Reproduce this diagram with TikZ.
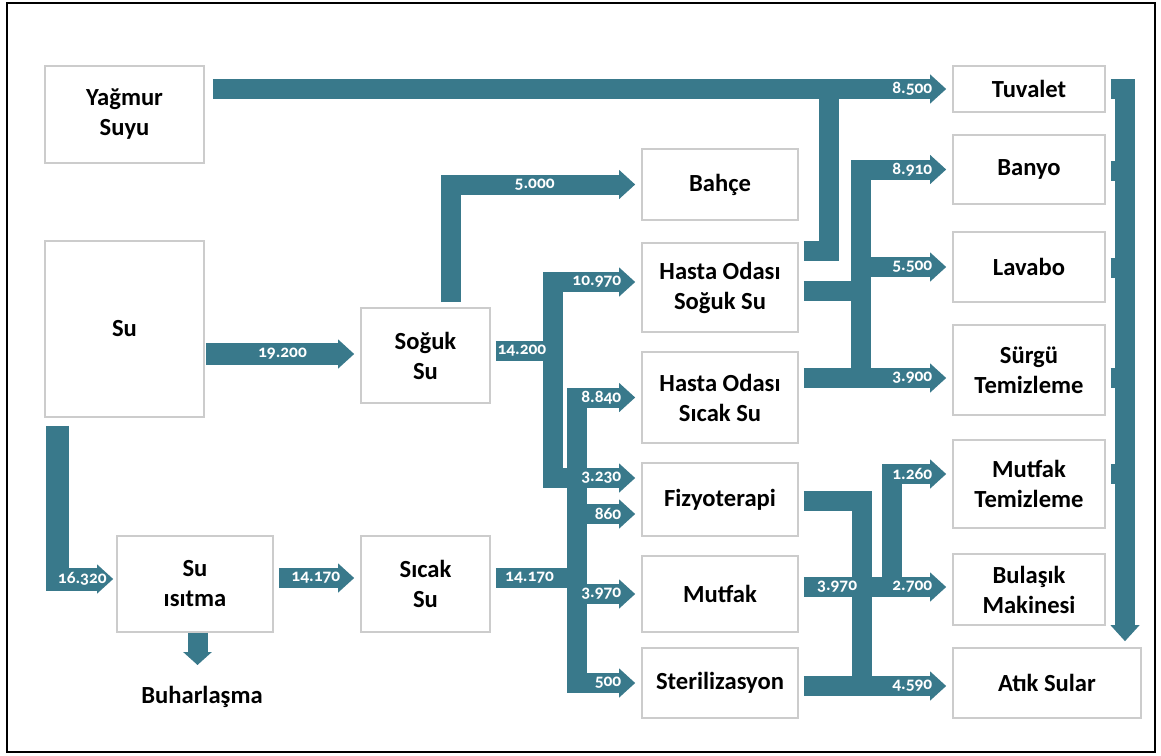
\documentclass[tikz,border=0pt]{standalone}
\usepackage{fontspec}
\setmainfont{Carlito}
\newfontfamily\etiketfont[Numbers=OldStyle]{Carlito}
\usepackage{tikz}
\usetikzlibrary{arrows.meta,positioning}
\definecolor{suMavi}{RGB}{57,121,139}
\definecolor{kutuGri}{RGB}{204,204,204}

\tikzset{
  kutu/.style={draw=kutuGri,line width=0.8pt,fill=white,align=center,
    font=\bfseries\fontsize{12.3}{15}\selectfont,inner sep=0pt},
  akis/.style={draw=suMavi,line width=10pt},
  ok/.style={-{Triangle[length=8pt,width=14pt]},shorten >=3pt},
  bas/.style={shorten <=2.5pt},
  deger/.style={text=white,inner sep=0pt,
    font=\etiketfont\bfseries\fontsize{8.7}{10}\selectfont},
  uc/.style={deger,pos=1,anchor=east,xshift=-5pt}
}

\begin{document}
\begin{tikzpicture}[x=0.5pt,y=-0.5pt]
    % zemin ve cerceve
    \fill[white] (0,0) rectangle (1161,755);
    \draw[line width=1.3pt] (7,3) rectangle (1155,752);

    % kaynaklar
    \node[kutu,minimum width=79.5pt,minimum height=48.5pt] (yagmur) at (124.5,114.5) {Yağmur\\Suyu};
    \node[kutu,minimum width=79.5pt,minimum height=88pt] (su) at (124.5,329) {Su};
    \node[kutu,minimum width=78pt,minimum height=48pt] (isitma) at (195,584) {Su\\ısıtma};
    \node[kutu,minimum width=64.5pt,minimum height=47.5pt] (sogukSu) at (425.5,355.5) {Soğuk\\Su};
    \node[kutu,minimum width=64.5pt,minimum height=48pt] (sicakSu) at (425.5,584) {Sıcak\\Su};
    \node[font=\bfseries\fontsize{12.3}{15}\selectfont,inner sep=0pt] (buhar) at (202,697) {Buharlaşma};

    % kullanim yerleri
    \node[kutu,minimum width=78pt,minimum height=35.5pt] (bahce) at (720,184.5) {Bahçe};
    \node[kutu,minimum width=78pt,minimum height=44.5pt] (hsoguk) at (720,287.5) {Hasta Odası\\Soğuk Su};
    \node[kutu,minimum width=78pt,minimum height=45.5pt] (hsicak) at (720,397.5) {Hasta Odası\\Sıcak Su};
    \node[kutu,minimum width=78pt,minimum height=36.5pt] (fizyo) at (720,499.5) {Fizyoterapi};
    \node[kutu,minimum width=78pt,minimum height=38pt] (mutfak) at (720,594) {Mutfak};
    \node[kutu,minimum width=78pt,minimum height=35pt] (steril) at (720,683) {Sterilizasyon};

    % son noktalar
    \node[kutu,minimum width=76pt,minimum height=23pt] (tuvalet) at (1029,89) {Tuvalet};
    \node[kutu,minimum width=76pt,minimum height=34.5pt] (banyo) at (1029,169.5) {Banyo};
    \node[kutu,minimum width=76pt,minimum height=35pt] (lavabo) at (1029,267) {Lavabo};
    \node[kutu,minimum width=76pt,minimum height=45pt] (surgu) at (1029,370) {Sürgü\\Temizleme};
    \node[kutu,minimum width=76pt,minimum height=44pt] (mtemiz) at (1029,484) {Mutfak\\Temizleme};
    \node[kutu,minimum width=76pt,minimum height=35.5pt] (bulasik) at (1029,589.5) {Bulaşık\\Makinesi};
    \node[kutu,minimum width=94pt,minimum height=35pt] (atik) at (1047,683) {Atık Sular};

    % kollektor noktalari
    \coordinate (tvK) at (829,89);
    \coordinate (sgK) at (553,351);
    \coordinate (scK) at (577,578);
    \coordinate (bnK) at (861,378);
    \coordinate (mtK) at (892,587);
    \coordinate (atK) at (862,686);
    \coordinate (bhr) at (197.5,665);

    % su girisi
    \draw[akis,ok,line width=11pt,shorten <=0.5pt] ([yshift=-12.5pt]su.east) -- ([yshift=0.75pt]sogukSu.west)
      node[deger,midway]{19.200};
    \draw[akis,ok,line width=11.5pt,shorten <=4pt,shorten >=1.5pt] ([xshift=-33.5pt]su.south) |- ([yshift=2.5pt]isitma.west)
      node[uc,xshift=6pt]{16.320};
    \draw[akis,ok,bas] ([yshift=3pt]isitma.east) -- ([yshift=3pt]sicakSu.west)
      node[uc]{14.170};
    \draw[akis,-{Triangle[length=6.5pt,width=14pt]}] ([xshift=1.25pt]isitma.south) -- (bhr);
    \draw[akis,ok,shorten <=4pt] ([yshift=12.75pt]yagmur.east) -- (tuvalet.west) node[uc]{8.500};

    % soguk su
    \draw[akis,ok,bas] ([xshift=12.75pt]sogukSu.north) |- (bahce.west) node[deger,pos=0.72]{5.000};
    \draw[akis,ok] (sgK) |- ([yshift=2.75pt]hsoguk.west) node[uc]{10.970};

    % sicak su
    \draw[akis,ok] (scK) |- (hsicak.west) node[uc]{8.840};
    \draw[akis,ok] (scK) |- (steril.west) node[uc]{500};
    \draw[akis,ok] (scK) |- ([yshift=-7.25pt]fizyo.west) node[uc]{860};
    \draw[akis,ok] (scK) |- (mutfak.west) node[uc]{3.970};
    \draw[akis,ok] (sgK) |- ([yshift=10.75pt]fizyo.west) node[uc]{3.230};
    \draw[akis,bas] ([yshift=2.25pt]sogukSu.east) -- (sgK) node[deger,midway]{14.200};
    \draw[akis,bas] ([yshift=3pt]sicakSu.east) -- (scK) node[deger,pos=0.45]{14.170};

    % hasta odalari
    \draw[akis,bas] ([yshift=18.25pt]hsoguk.east) -| (tvK);
    \draw[akis,bas] ([yshift=-1.75pt]hsoguk.east) -| (bnK);
    \draw[akis,ok] (bnK) |- (banyo.west) node[uc]{8.910};
    \draw[akis,ok] (bnK) |- (lavabo.west) node[uc]{5.500};
    \draw[akis,ok,bas] ([yshift=9.75pt]hsicak.east) -- ([yshift=-4pt]surgu.west) node[uc]{3.900};

    % fizyoterapi, mutfak, sterilizasyon
    \draw[akis,bas] ([yshift=-0.75pt]fizyo.east) -| (atK);
    \draw[akis,ok] (mtK) |- ([yshift=5pt]mtemiz.west) node[uc]{1.260};
    \draw[akis,ok,bas] ([yshift=3.5pt]mutfak.east) -- ([yshift=1.25pt]bulasik.west)
      node[deger,pos=0.25]{3.970} node[uc]{2.700};
    \draw[akis,ok,bas] ([yshift=-1.5pt]steril.east) -- ([yshift=-1.5pt]atik.west) node[uc]{4.590};

    % atik su toplama
    \draw[akis,ok,bas] (tuvalet.east) -| ([xshift=39pt]atik.north);
    \draw[akis,bas] ([yshift=-0.75pt]banyo.east) -- ++(10pt,0);
    \draw[akis,bas] ([yshift=-0.5pt]lavabo.east) -- ++(10pt,0);
    \draw[akis,bas] ([yshift=-4pt]surgu.east) -- ++(10pt,0);
    \draw[akis,bas] ([yshift=5pt]mtemiz.east) -- ++(10pt,0);
\end{tikzpicture}
\end{document}
